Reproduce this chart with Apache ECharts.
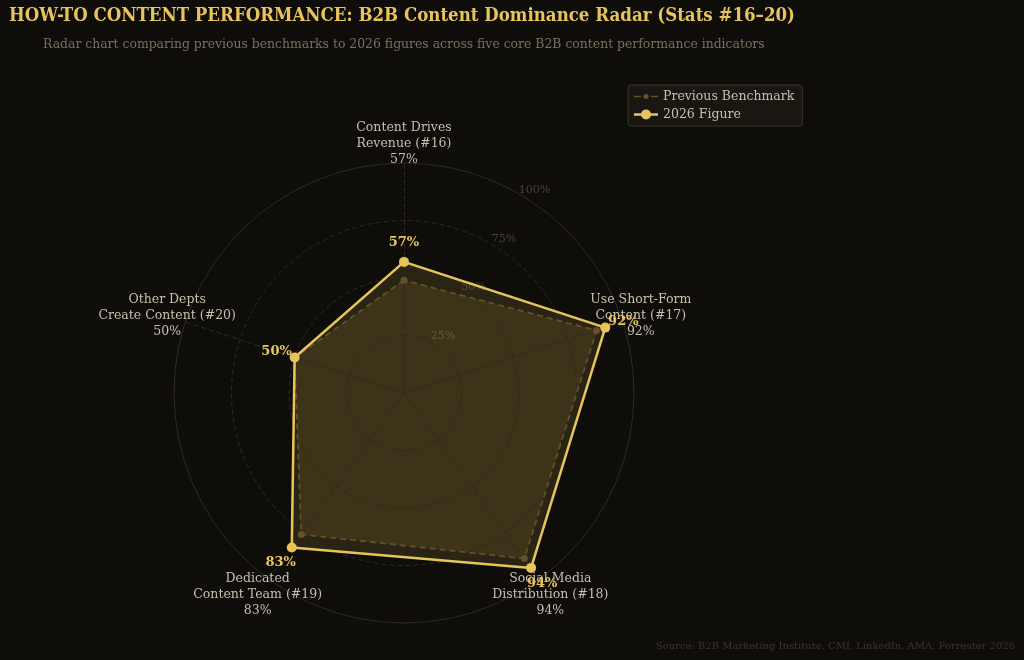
<!DOCTYPE html>
<html>
<head>
<meta charset="utf-8" />
<title>B2B Content Dominance Radar</title>
<script src="https://cdn.jsdelivr.net/npm/echarts@6/dist/echarts.min.js"></script>
<style>
  html, body { margin: 0; padding: 0; background: #0e0d0a; }
  #main { width: 1024px; height: 660px; }
</style>
</head>
<body>
<div id="main"></div>
<script type="text/javascript">
// stats #16 -> #20, drawn clockwise from the top
var categories = [
    'Content Drives\nRevenue (#16)',
    'Use Short-Form\nContent (#17)',
    'Social Media\nDistribution (#18)',
    'Dedicated\nContent Team (#19)',
    'Other Depts\nCreate Content (#20)'
];
var prevBenchmark = [49, 88, 89, 76, 50];
var figure2026 = [57, 92, 94, 83, 50];
var ringTicks = [25, 50, 75, 100];

var serif = '"DejaVu Serif", serif';
var condensed = '"DejaVu Serif Condensed", "DejaVu Serif", serif';
var gold = '#e8c55a';
var dimGold = '#62512a';
var gridColor = '#2d2a24';

// radar goes counter-clockwise, keep #16 on top and reverse the others
var order = [0, 4, 3, 2, 1];
function reorder(arr) {
    return order.map(function (i) { return arr[i]; });
}

var indicators = order.map(function (i) {
    return { name: categories[i], min: 0, max: ringTicks[ringTicks.length - 1] };
});

// value labels sit ~19px outward from each vertex (shifted with padding)
var valueRich = {};
for (var j = 0; j < order.length; j++) {
    var a = j * 2 * Math.PI / order.length;
    var dx = -Math.sin(a) * 19, dy = -Math.cos(a) * 19;
    valueRich['v' + j] = {
        color: gold, fontWeight: 'bold', fontSize: 13, fontFamily: serif,
        padding: [Math.max(dy, 0) * 2, Math.max(-dx, 0) * 2, Math.max(-dy, 0) * 2, Math.max(dx, 0) * 2]
    };
}

// legend icons: line with a dot (24 x 10 box)
var prevIcon = 'path://M0,4.3h7v1.4h-7z M17,4.3h7v1.4h-7z M9.5,5a2.5,2.5 0 1,1 5,0a2.5,2.5 0 1,1 -5,0z';
var figIcon = 'path://M0,3.8h7.5v2.4h-7.5z M16.5,3.8h7.5v2.4h-7.5z M7,5a5,5 0 1,1 10,0a5,5 0 1,1 -10,0z';

var myChart = echarts.init(document.getElementById('main'));
myChart.setOption({
    backgroundColor: '#0e0d0a',
    animation: false,
    title: [{
        text: 'HOW-TO CONTENT PERFORMANCE: B2B Content Dominance Radar (Stats #16\u201320)',
        left: 9, top: 7, padding: 0,
        textStyle: { color: gold, fontSize: 18.5, fontWeight: 'bold', fontFamily: condensed }
    }, {
        text: 'Radar chart comparing previous benchmarks to 2026 figures across five core B2B content performance indicators',
        left: 43, top: 37, padding: 0,
        textStyle: { color: '#7a705e', fontSize: 13.8, fontWeight: 'normal', fontFamily: condensed }
    }, {
        text: 'Source: B2B Marketing Institute, CMI, LinkedIn, AMA, Forrester 2026',
        right: 9, bottom: 9, padding: 0,
        textStyle: { color: '#3d362b', fontSize: 10, fontWeight: 'normal', fontFamily: serif }
    }],
    legend: {
        orient: 'vertical',
        left: 628, top: 85,
        padding: [5, 8, 5, 6],
        backgroundColor: 'rgba(27,24,19,0.95)',
        borderColor: '#3a3328', borderWidth: 1, borderRadius: 3,
        itemWidth: 24, itemHeight: 10, itemGap: 5,
        textStyle: { color: '#c8bfae', fontFamily: serif, fontSize: 12.5 },
        data: [
            { name: 'Previous Benchmark', icon: prevIcon },
            { name: '2026 Figure', icon: figIcon }
        ]
    },
    // polar 0: solid outer ring; polar 1: the % ring labels (nudged up-right)
    polar: [
        { center: [404, 393], radius: 230 },
        { center: [404, 385], radius: 230 }
    ],
    angleAxis: [{
        polarIndex: 0,
        type: 'value', min: 0, max: 360, startAngle: 58,
        axisLine: { show: true, lineStyle: { color: '#2e2a23', width: 1 } },
        axisTick: { show: false }, axisLabel: { show: false }, splitLine: { show: false }
    }, {
        polarIndex: 1,
        type: 'value', min: 0, max: 360, startAngle: 58,
        axisLine: { show: false },
        axisTick: { show: false }, axisLabel: { show: false }, splitLine: { show: false }
    }],
    radiusAxis: [{
        polarIndex: 0,
        type: 'value', min: 0, max: 100,
        axisLine: { show: false }, axisTick: { show: false }, splitLine: { show: false },
        axisLabel: { show: false }
    }, {
        polarIndex: 1,
        type: 'value', min: 0, max: ringTicks[ringTicks.length - 1], interval: ringTicks[0],
        axisLine: { show: false }, axisTick: { show: false }, splitLine: { show: false },
        axisLabel: {
            margin: 0, align: 'center', verticalAlign: 'middle',
            color: '#4a4234', fontSize: 11, fontFamily: serif,
            padding: [0, 0, 0, 17],
            formatter: function (v) { return v === 0 ? '' : v + '%'; }
        }
    }],
    radar: {
        center: [404, 393],
        radius: 230,
        startAngle: 90,
        shape: 'circle',
        splitNumber: 4,
        z: 2,
        indicator: indicators,
        nameGap: 19,
        axisName: {
            color: '#c8bfae', fontFamily: serif, fontSize: 12.5, lineHeight: 16,
            align: 'center', verticalAlign: 'middle',
            formatter: function (name) {
                return name + '\n' + figure2026[categories.indexOf(name)] + '%';
            }
        },
        axisLine: { lineStyle: { color: gridColor, type: [5, 3] } },
        splitLine: {
            lineStyle: {
                color: [gridColor, gridColor, gridColor, gridColor, 'rgba(0,0,0,0)'],
                type: [5, 3]
            }
        },
        splitArea: { show: false }
    },
    series: [{
        // fills sit below the grid, outlines above it
        name: 'prev-fill',
        type: 'radar',
        z: 1,
        symbol: 'none',
        lineStyle: { width: 0, opacity: 0 },
        areaStyle: { color: 'rgba(150,120,50,0.24)' },
        data: [{ name: 'prev-fill', value: reorder(prevBenchmark) }]
    }, {
        name: 'fig-fill',
        type: 'radar',
        z: 1,
        symbol: 'none',
        lineStyle: { width: 0, opacity: 0 },
        areaStyle: { color: 'rgba(232,197,90,0.18)' },
        data: [{ name: 'fig-fill', value: reorder(figure2026) }]
    }, {
        name: 'Previous Benchmark',
        type: 'radar',
        z: 3,
        symbol: 'circle',
        symbolSize: 7,
        lineStyle: { color: dimGold, width: 1.8, type: [6, 4] },
        itemStyle: { color: dimGold },
        data: [{ name: 'Previous Benchmark', value: reorder(prevBenchmark) }]
    }, {
        name: '2026 Figure',
        type: 'radar',
        z: 4,
        symbol: 'circle',
        symbolSize: 10,
        lineStyle: { color: gold, width: 2.5 },
        itemStyle: { color: gold },
        label: {
            show: true,
            position: 'inside',
            rich: valueRich,
            formatter: function (p) {
                var v = Array.isArray(p.value) ? p.value[p.dimensionIndex] : p.value;
                return '{v' + p.dimensionIndex + '|' + v + '%}';
            }
        },
        data: [{ name: '2026 Figure', value: reorder(figure2026) }]
    }]
});
</script>
</body>
</html>
